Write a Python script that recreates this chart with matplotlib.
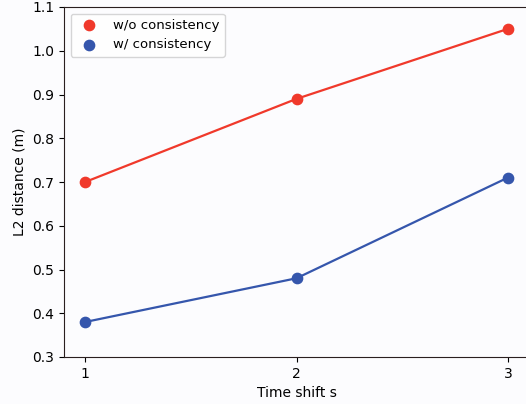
import matplotlib
matplotlib.use("Agg")
import matplotlib.pyplot as plt

# Time shift s
shifts = [1, 2, 3]
wo_consistency = [0.70, 0.89, 1.05]
w_consistency = [0.38, 0.48, 0.71]

RED = "#f0392b"
BLUE = "#3556ac"

fig = plt.figure(figsize=(5.26, 4.04), dpi=100)
fig.patch.set_facecolor("#fcfcfe")
W, H = 526, 404
ax = fig.add_axes([64 / W, (H - 357) / H, (529 - 64) / W, (357 - 7) / H])
ax.set_facecolor("#fcfcfe")

ax.plot(shifts, wo_consistency, color=RED, lw=1.6, zorder=2)
ax.plot(shifts, w_consistency, color=BLUE, lw=1.6, zorder=2)
ax.scatter(shifts, wo_consistency, color=RED, s=55, zorder=3, label="w/o consistency")
ax.scatter(shifts, w_consistency, color=BLUE, s=55, zorder=3, label="w/ consistency")

ax.set_xlim(0.9, 3.1)
ax.set_ylim(0.3, 1.1)
ax.set_xticks(shifts)
ax.set_yticks([0.3, 0.4, 0.5, 0.6, 0.7, 0.8, 0.9, 1.0, 1.1])
ax.set_xlabel("Time shift s")
ax.set_ylabel("L2 distance (m)")
for s in ax.spines.values():
    s.set_color("#2a1f1f")
ax.spines["right"].set_visible(False)
ax.legend(loc="upper left", fontsize=9.5, borderaxespad=0.5)

fig.savefig("out.png", dpi=100, facecolor=fig.get_facecolor())
